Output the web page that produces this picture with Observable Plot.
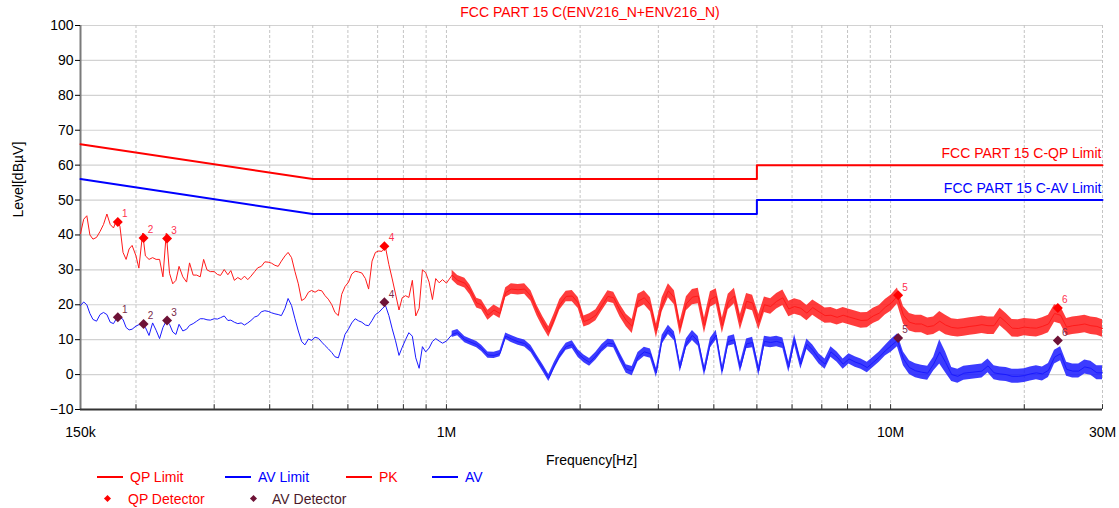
<!DOCTYPE html>
<html><head><meta charset="utf-8">
<script src="https://cdn.jsdelivr.net/npm/d3@7"></script>
<script src="https://cdn.jsdelivr.net/npm/@observablehq/plot@0.6"></script>
<style>
body{margin:0;background:#fff;font-family:"Liberation Sans",Arial,sans-serif;}
#title{height:20px;padding-top:2px;line-height:20px;font-size:14px;color:#ff0000;text-align:center;padding-left:61px;width:1058px;}
#legend{position:relative;height:40px;width:1119px;font-size:14px;}
#legend .ln{position:absolute;height:2px;width:26px;}
#legend .tx{position:absolute;line-height:18px;white-space:nowrap;}
#legend .dm{position:absolute;width:5px;height:5px;transform:rotate(45deg);}
</style>
</head><body>
<div id="title">FCC PART 15 C(ENV216_N+ENV216_N)</div>
<div id="chart"></div>
<div id="legend">
  <div class="ln" style="left:97px;top:8px;background:#ff0000"></div><div class="tx" style="left:130px;top:0;color:#ff0000">QP Limit</div>
  <div class="ln" style="left:225px;top:8px;background:#0000ff"></div><div class="tx" style="left:258px;top:0;color:#0000ff">AV Limit</div>
  <div class="ln" style="left:346px;top:8px;background:#ff0000"></div><div class="tx" style="left:379px;top:0;color:#ff0000">PK</div>
  <div class="ln" style="left:432px;top:8px;background:#0000ff"></div><div class="tx" style="left:465px;top:0;color:#0000ff">AV</div>
  <div class="dm" style="left:105px;top:28px;background:#ff0000"></div><div class="tx" style="left:128px;top:22px;color:#ff0000">QP Detector</div>
  <div class="dm" style="left:251px;top:28px;background:#6e1236"></div><div class="tx" style="left:272px;top:22px;color:#4a1a2a">AV Detector</div>
</div>
<script>
// ---- Data ----
const freqLowMHz = [0.15,0.1525,0.155,0.1575,0.16,0.163,0.166,0.169,0.172,0.175,0.178,0.181,0.184,0.187,0.19,0.193,0.196,0.2,0.203,0.207,0.21,0.214,0.218,0.222,0.226,0.23,0.234,0.238,0.242,0.246,0.25,0.255,0.26,0.264,0.269,0.274,0.279,0.284,0.289,0.294,0.3,0.305,0.31,0.316,0.322,0.327,0.333,0.339,0.345,0.351,0.357,0.363,0.37,0.376,0.383,0.39,0.397,0.404,0.411,0.418,0.425,0.433,0.44,0.448,0.456,0.464,0.472,0.48,0.489,0.497,0.506,0.515,0.524,0.533,0.542,0.552,0.561,0.571,0.581,0.591,0.602,0.612,0.623,0.634,0.645,0.657,0.668,0.68,0.692,0.704,0.716,0.729,0.742,0.755,0.768,0.782,0.795,0.809,0.823,0.838,0.853,0.868,0.883,0.898,0.914,0.93,0.946,0.963,0.98,1];
const pkLow = [40.4,44.5,45.5,40,38.8,39.3,41,43,46,43,
42,44.5,42.5,35,33,36,37,34,30.5,40.5,
34,33,33.5,33,33,28,40.5,29,26,27,
31,28,26.5,32,28.5,28.5,28,33,30,29.5,
29.5,28.7,28.4,30.1,28.6,29.8,27,27.8,27.2,28.2,
27.2,28.2,29.5,30.6,31,32.3,32.2,31.9,31.3,31,
32.5,34,35,33.5,29.5,26,21.2,21.8,23.6,24.1,
23.6,24.2,24,22.6,21.6,20,17.8,16.9,23,25.2,
26.5,28.8,29.6,29.4,29.1,27.5,24.5,32.5,35,35.4,
35.3,36.5,31.5,27.4,23.1,18.5,22,22.6,22.1,27,
16.8,19,30,29.2,26.5,21.5,27.5,26.3,27.2,26.2];
const avLow = [19.8,20.8,20,17.5,15.8,15.3,17.2,17.8,17.2,15,
14.6,16.2,16.4,15.8,13.5,12.8,13,13.9,14.3,14.3,
13.5,11.2,14.8,12.7,10.3,13.5,15.4,14.4,12.2,11.5,
14.4,12.5,13,14.1,14.6,15.3,16,16,15.7,15.6,
16,15.9,16.3,16.8,15.5,15.6,15,14.6,14.8,14.2,
14.8,15.5,16.5,16.8,18,18.3,18.1,17.7,17.4,17.2,
16.9,19,21.8,19.8,16,12.5,9.5,8.5,10.2,9.8,
10.7,10.4,9.3,8.3,7.4,6.3,5.1,4.8,8,11.5,
13.1,14.8,16,15.4,15,14.2,14,15.5,17.2,17.8,
18.8,19.8,16.9,13.1,9.7,5.5,7.8,10,12,11,
4.8,1.8,8,6.5,7.6,9.5,10.3,9.6,9,9.6];
const freqHighMHz = [1.03,1.06,1.1,1.13,1.17,1.2,1.24,1.28,1.32,1.36,
1.4,1.45,1.5,1.55,1.6,1.65,1.7,1.75,1.8,1.86,
1.92,1.98,2.04,2.1,2.17,2.24,2.31,2.38,2.46,2.54,
2.62,2.7,2.79,2.88,2.97,3.06,3.16,3.26,3.36,3.47,
3.58,3.69,3.81,3.93,4.05,4.18,4.31,4.45,4.59,4.74,
4.89,5.05,5.2,5.37,5.54,5.72,5.9,6.08,6.28,6.48,
6.68,6.9,7.12,7.34,7.58,7.82,8.06,8.32,8.58,8.86,
9.14,9.43,9.73,10.04,10.36,10.69,11.03,11.38,11.74,12.12,
12.5,12.9,13.3,13.73,14.17,14.62,15.08,15.56,16.06,16.57,
17.1,17.64,18.2,18.78,19.38,20,20.64,21.3,21.97,22.67,
23.4,24.14,24.91,25.7,26.52,27.37,28.24,29.14,30];
const pkHigh = [28.5,27,26.2,24.3,20.5,20,17,18.5,17.5,23.5,
24.5,24.3,24.5,22.5,18.3,15,12.2,16,20,22.4,
22.5,20.5,15.2,15.8,17,19.8,22.4,22,18.3,15.5,
13.8,21,22,20,12.5,20,24,22,13.3,20.3,
22.2,22.5,14,21.5,22.4,14,20.8,22.5,15,21,
20.5,15,20,19.5,21,22,18.8,19.5,19,17.6,
19.2,18,16.9,17,16.4,17,16.5,16,15.5,15.6,
16.8,17.6,19.3,20.5,22.5,17,15,14.5,14.5,13.7,
14,15.3,14.2,13.5,13.3,13.5,13.8,14,14.3,14,
14,16.5,15,13.3,13.2,13.6,13.4,13.3,13.8,14.5,
17.5,17,13.6,14,14.2,14.5,14,13.8,13.2];
const avHigh = [11.5,12,10,9.4,8.6,7.5,5.6,5.5,6,11,
10.2,9.4,8.9,7.3,4.5,1.8,-1,2.5,5.5,8,
8.6,6,4.5,3.5,5.3,7.5,9,8.8,5,1.6,
1,5,6.5,6,0.5,10,12.8,11,2,9,
11.2,9.5,1,9,11.3,1,9.5,10,2,8.8,
9.2,1.1,9.5,9.2,9.5,9,2.1,10,3,8.7,
7,4.5,3,6.5,5,3,4.5,3.6,3,2,
3.5,5,6.8,8.3,9.8,4.5,2,1.1,0.7,0.4,
3,6.5,3.5,0,-0.5,0.4,0.6,0.8,1,2.5,
0.5,0.2,0,-0.5,-0.5,-0.3,0.2,0.5,0.2,1.2,
5,6,1.5,1,1,2.2,1.8,0.5,0.5];
const pkSpread = [1.4,1.4,1.4,1.4,1.4,1.4,1.4,1.4,1.4,1.4,
1.5,1.5,1.5,1.5,1.5,1.5,1.5,1.5,1.5,1.5,
1.6,1.6,1.6,1.6,1.6,1.6,1.6,1.6,1.8,1.8,
2,2,2,2,2,2,2,2,2,2,
2.2,2.2,2.2,2.2,2.2,2.2,2.2,2.2,2.2,2.2,
2.2,2.2,2.2,2.2,2.2,2.2,2.2,2.2,2.2,2.2,
2.2,2.2,2.2,2.2,2.2,2.2,2.2,2.2,2.2,2.2,
2.2,2.2,2.2,2.3,2.3,2.5,2.5,2.5,2.5,2.5,
2.5,2.8,2.8,2.5,2.5,2.5,2.5,2.5,2.5,2.5,
2.5,2.5,2.5,2.5,2.5,2.5,2.5,2.5,2.5,2.5,
2.5,2.5,2.5,2.5,2.5,2.5,2.5,2.5,2.5];
const avSpread = [0.9,0.9,0.9,0.9,0.9,0.9,0.9,0.9,0.9,0.9,
1,1,1,1,1,1,1,1,1,1,
1.1,1.1,1.1,1.1,1.1,1.1,1.1,1.1,1.2,1.2,
1.3,1.3,1.3,1.3,1.3,1.3,1.3,1.3,1.3,1.3,
1.4,1.4,1.4,1.4,1.4,1.4,1.4,1.4,1.4,1.4,
1.5,1.5,1.5,1.5,1.5,1.5,1.5,1.5,1.5,1.5,
1.5,1.5,1.5,1.5,1.5,1.5,1.5,1.5,1.5,1.5,
1.5,1.5,1.5,1.8,1.8,2,2,2,2,2,
2,3.5,3,2,2,2,2,2,2,2,
2,2,2,2,2,2,2,2,2,2,
2,2,2,2,2,2,2,2,2];

const limitFreqMHz = [0.15, 0.5, 5, 5, 30];
const qpLimit = [66, 56, 56, 60, 60];
const avLimit = [56, 46, 46, 50, 50];
const limitNames = ["FCC PART 15 C-QP Limit", "FCC PART 15 C-AV Limit"];

const detFreqMHz = [0.182, 0.208, 0.235, 0.725, 10.4, 23.8];
const qpDetector = [43.7, 39.1, 39.0, 36.8, 22.7, 19.1];
const avDetector = [16.4, 14.5, 15.5, 20.7, 10.5, 9.8];
const detLabels = ["1", "2", "3", "4", "5", "6"];

const xGridMHz = [0.2,0.3,0.4,0.5,0.6,0.7,0.8,0.9,1,2,3,4,5,6,7,8,9,10,20,30];
const xLabelMHz = [0.15, 1, 10, 30];
const xLabels = ["150k", "1M", "10M", "30M"];
const yTicks = [-10,0,10,20,30,40,50,60,70,80,90,100];

// ---- Tables ----
const traceRows = freqLowMHz.map((f, i) => ({f, pk: pkLow[i], av: avLow[i]}))
  .concat(freqHighMHz.map((f, i) => ({f, pk: pkHigh[i], av: avHigh[i]})));
const bandRows = freqHighMHz.map((f, i) => ({
  f,
  pkLo: pkHigh[i] - pkSpread[i], pkHi: pkHigh[i] + pkSpread[i],
  avLo: avHigh[i] - avSpread[i], avHi: avHigh[i] + avSpread[i]
}));
const limitRows = limitFreqMHz.map((f, i) => ({f, qp: qpLimit[i], av: avLimit[i]}));
const limitLabelRows = [
  {f: limitFreqMHz[limitFreqMHz.length - 1], y: qpLimit[qpLimit.length - 1], t: limitNames[0], c: "#ff0000"},
  {f: limitFreqMHz[limitFreqMHz.length - 1], y: avLimit[avLimit.length - 1], t: limitNames[1], c: "#0000ff"}
];
const detRows = detFreqMHz.map((f, i) => ({f, qp: qpDetector[i], av: avDetector[i], n: detLabels[i]}));

const chart = Plot.plot({
  width: 1119,
  height: 446,
  marginTop: 3,
  marginLeft: 80,
  marginRight: 17,
  marginBottom: 59,
  x: {type: "log", domain: [0.15, 30]},
  y: {domain: [-10, 100]},
  style: {fontFamily: "'Liberation Sans', Arial, sans-serif", fontSize: "14px", background: "white"},
  marks: [
    Plot.ruleY(yTicks, {stroke: "#d2d2d2", strokeWidth: 1.2}),
    Plot.ruleX(xGridMHz, {stroke: "#c4c4c4", strokeDasharray: "3,2"}),
    Plot.ruleX(xGridMHz, {y1: -10, y2: -8.6, stroke: "#333"}),
    Plot.ruleX([0.15], {stroke: "#7a7a7a", strokeWidth: 2}),
    Plot.ruleY([-10], {stroke: "#333", strokeWidth: 2}),
    Plot.line(limitRows, {x: "f", y: "qp", stroke: "#ff0000", strokeWidth: 2}),
    Plot.line(limitRows, {x: "f", y: "av", stroke: "#0000ff", strokeWidth: 2}),
    Plot.text(limitLabelRows, {x: "f", y: "y", text: "t", fill: "c", textAnchor: "end", dx: -1, dy: -12, fontSize: 14}),
    Plot.areaY(bandRows, {x: "f", y1: "pkLo", y2: "pkHi", fill: "#ff1a1a", fillOpacity: 0.85}),
    Plot.areaY(bandRows, {x: "f", y1: "avLo", y2: "avHi", fill: "#1a1aff", fillOpacity: 0.85}),
    Plot.line(traceRows, {x: "f", y: "pk", stroke: "#ff1a1a", strokeWidth: 1}),
    Plot.line(traceRows, {x: "f", y: "av", stroke: "#1a1aff", strokeWidth: 1}),
    Plot.dot(detRows, {x: "f", y: "qp", symbol: "diamond2", r: 4.5, fill: "#ff0000"}),
    Plot.dot(detRows, {x: "f", y: "av", symbol: "diamond2", r: 4.5, fill: "#6e1236"}),
    Plot.text(detRows, {x: "f", y: "qp", text: "n", dx: 7, dy: -8, fill: "#ff3050", fontSize: 10}),
    Plot.text(detRows, {x: "f", y: "av", text: "n", dx: 7, dy: -8, fill: "#7a2a4a", fontSize: 10}),
    Plot.axisY({ticks: yTicks, tickSize: 5, tickPadding: 2, label: null, fontSize: 14}),
    Plot.axisX({ticks: xLabelMHz, tickFormat: d => xLabels[xLabelMHz.indexOf(d)], tickSize: 0, tickPadding: 18, label: null, fontSize: 14}),
    Plot.text(["Frequency[Hz]"], {frameAnchor: "bottom", dy: 55, text: d => d, fontSize: 14}),
    Plot.text(["Level[dBµV]"], {frameAnchor: "left", dx: -62, rotate: -90, text: d => d, fontSize: 14})
  ]
});
chart.style.overflow = "visible";
document.getElementById("chart").appendChild(chart);
</script>
</body></html>
